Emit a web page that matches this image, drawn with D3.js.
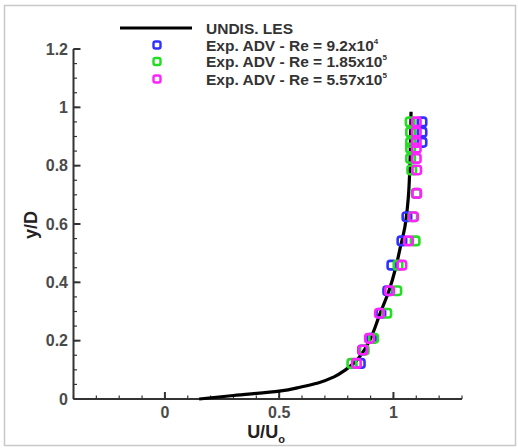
<!DOCTYPE html>
<html><head><meta charset="utf-8">
<script src="https://cdn.jsdelivr.net/npm/d3@7"></script>
<style>body{margin:0;background:#fff}svg{display:block}text{font-family:"Liberation Sans",Arial,sans-serif}</style>
</head><body><svg id="c" width="518" height="448"></svg>
<script>
// LES profile
const lesU = [0.15, 0.3, 0.5, 0.6, 0.67, 0.74, 0.79, 0.83, 0.87, 0.9, 0.94, 0.98, 1.01, 1.03, 1.05, 1.065, 1.072, 1.075, 1.077];
const lesY = [0, 0.012, 0.027, 0.042, 0.055, 0.076, 0.1, 0.125, 0.165, 0.208, 0.29, 0.37, 0.45, 0.52, 0.59, 0.69, 0.8, 0.9, 0.985];
// Experimental ADV data
const blueY = [0.122, 0.168, 0.208, 0.294, 0.371, 0.459, 0.542, 0.625, 0.88, 0.915, 0.95];
const blueU = [0.855, 0.865, 0.905, 0.945, 0.975, 0.993, 1.037, 1.059, 1.125, 1.125, 1.125];
const greenY = [0.122, 0.168, 0.208, 0.294, 0.371, 0.459, 0.542, 0.625, 0.705, 0.785, 0.825, 0.86, 0.88, 0.915, 0.95];
const greenU = [0.818, 0.872, 0.913, 0.971, 1.015, 1.02, 1.095, 1.085, 1.1, 1.08, 1.075, 1.075, 1.075, 1.075, 1.073];
const magY = [0.122, 0.168, 0.208, 0.294, 0.371, 0.459, 0.542, 0.625, 0.705, 0.785, 0.825, 0.86, 0.88, 0.915, 0.95];
const magU = [0.838, 0.866, 0.895, 0.939, 0.983, 1.037, 1.066, 1.088, 1.102, 1.102, 1.1, 1.1, 1.1, 1.1, 1.1];
const seriesNames = ["UNDIS. LES", "Exp. ADV - Re = 9.2x10", "Exp. ADV - Re = 1.85x10", "Exp. ADV - Re = 5.57x10"];
const seriesExp = ["", "4", "5", "5"];
const seriesColors = ["#000000", "#3030ff", "#22dd22", "#ff22ff"];
const xTicks = [0, 0.5, 1];
const yTicks = [0, 0.2, 0.4, 0.6, 0.8, 1, 1.2];

const svg = d3.select("#c");
svg.append("rect").attr("x",4.5).attr("y",5.5).attr("width",511).attr("height",440)
  .attr("fill","#fff").attr("stroke","#c8c8c8").attr("stroke-width",1.5);

const x = d3.scaleLinear().domain([-0.4, 1.3]).range([73.5, 462]);
const y = d3.scaleLinear().domain([0, 1.2]).range([399, 49]);

// axes
const axisCol = "#333";
const g = svg.append("g");
const xMinor = d3.range(-4, 14).map(i => i/10);
const yMinor = d3.range(0, 25).map(i => i*0.05);
g.selectAll(".xm").data(xMinor).join("line")
  .attr("x1", d=>x(d)).attr("x2", d=>x(d)).attr("y1", y(0)).attr("y2", y(0)-3.5)
  .attr("stroke", axisCol).attr("stroke-width",1.2);
g.selectAll(".ym").data(yMinor).join("line")
  .attr("y1", d=>y(d)).attr("y2", d=>y(d)).attr("x1", x(-0.4)).attr("x2", x(-0.4)+3.5)
  .attr("stroke", axisCol).attr("stroke-width",1.2);
g.selectAll(".xM").data(xTicks).join("line")
  .attr("x1", d=>x(d)).attr("x2", d=>x(d)).attr("y1", y(0)).attr("y2", y(0)-7)
  .attr("stroke", axisCol).attr("stroke-width",2);
g.selectAll(".yM").data(yTicks).join("line")
  .attr("y1", d=>y(d)).attr("y2", d=>y(d)).attr("x1", x(-0.4)).attr("x2", x(-0.4)+7)
  .attr("stroke", axisCol).attr("stroke-width",2);
g.append("line").attr("x1", x(-0.4)).attr("x2", x(1.3)).attr("y1", y(0)).attr("y2", y(0))
  .attr("stroke", axisCol).attr("stroke-width",2);
g.append("line").attr("x1", x(-0.4)).attr("x2", x(-0.4)).attr("y1", y(0)).attr("y2", y(1.2))
  .attr("stroke", axisCol).attr("stroke-width",2);
g.selectAll(".xl").data(xTicks).join("text")
  .attr("x", d=>x(d)).attr("y", 418).attr("text-anchor","middle")
  .attr("font-size",16).attr("font-weight","bold").attr("fill","#4a4a4a").text(d=>d);
g.selectAll(".yl").data(yTicks).join("text")
  .attr("x", 68).attr("y", d=>y(d)+5.5).attr("text-anchor","end")
  .attr("font-size",16).attr("font-weight","bold").attr("fill","#4a4a4a").text(d=>d);
const xt = svg.append("text").attr("x",266).attr("y",438).attr("text-anchor","middle")
  .attr("font-size",18).attr("font-weight","bold").attr("fill","#222");
xt.append("tspan").text("U/U");
xt.append("tspan").attr("font-size",11).attr("dy",5).text("o");
svg.append("text").attr("transform","translate(37,225) rotate(-90)").attr("text-anchor","middle")
  .attr("font-size",18).attr("font-weight","bold").attr("fill","#222").text("y/D");

// LES line
const les = lesU.map((u,i)=>[u, lesY[i]]);
svg.append("path").datum(les)
  .attr("d", d3.line().x(d=>x(d[0])).y(d=>y(d[1])).curve(d3.curveMonotoneY))
  .attr("fill","none").attr("stroke","#000").attr("stroke-width",3.2);

// markers
function markers(U, Y, col) {
  const pts = U.map((u,i)=>[u, Y[i]]);
  svg.append("g").selectAll("rect").data(pts).join("rect")
    .attr("x", d=>x(d[0])-4.25).attr("y", d=>y(d[1])-4.25).attr("width",8.5).attr("height",8.5)
    .attr("rx",2.5).attr("fill","none").attr("stroke",col).attr("stroke-width",2.6);
}
markers(blueU, blueY, seriesColors[1]);
markers(greenU, greenY, seriesColors[2]);
markers(magU, magY, seriesColors[3]);

// legend
const lg = svg.append("g");
lg.append("line").attr("x1",120).attr("x2",192).attr("y1",28).attr("y2",28)
  .attr("stroke","#000").attr("stroke-width",3.2);
[45, 61.5, 79].forEach((yy,i)=>{
  lg.append("rect").attr("x",153.5).attr("y",yy-3.5).attr("width",7).attr("height",7).attr("rx",2)
    .attr("fill","none").attr("stroke",seriesColors[i+1]).attr("stroke-width",2.4);
});
[28, 45, 61.5, 79].forEach((yy,i)=>{
  const t = lg.append("text").attr("x",206).attr("y",yy+5.5)
    .attr("font-size",15.5).attr("font-weight","bold").attr("fill","#333");
  t.append("tspan").text(seriesNames[i]);
  if (seriesExp[i]) t.append("tspan").attr("font-size",8).attr("dy",-7).text(seriesExp[i]);
});
</script></body></html>
